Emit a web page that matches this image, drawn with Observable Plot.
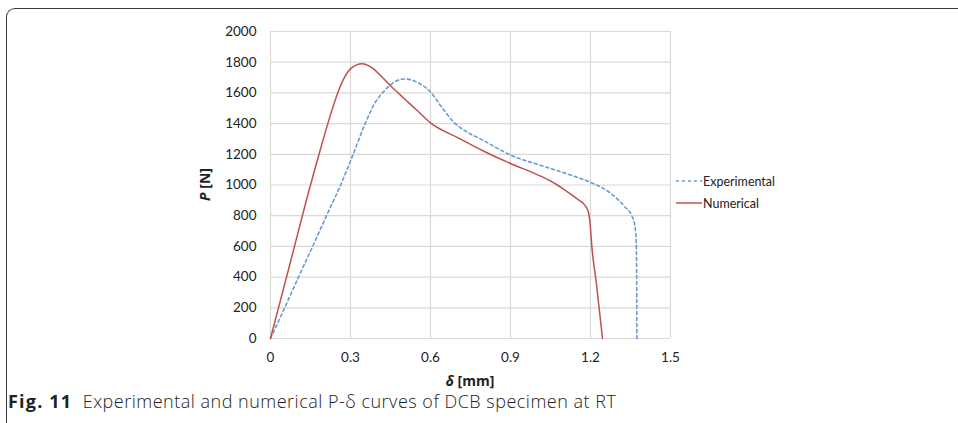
<!DOCTYPE html>
<html>
<head>
<meta charset="utf-8">
<script src="https://cdn.jsdelivr.net/npm/d3@7"></script>
<script src="https://cdn.jsdelivr.net/npm/@observablehq/plot@0.6"></script>
<style>
  html, body { margin: 0; padding: 0; background: #fff; width: 958px; height: 423px; overflow: hidden; }
  #wrap { position: relative; width: 958px; height: 423px; }
  #frame { position: absolute; left: 6px; top: 8px; width: 1000px; height: 600px;
           border-left: 1.3px solid #3a3a3a; border-top: 1.3px solid #3a3a3a; border-top-left-radius: 9px; pointer-events: none; }
  #chart { position: absolute; left: 0; top: 0; }
  #legend { position: absolute; left: 676px; top: 170px; font-family: Lato, "Open Sans", sans-serif; font-size: 12.5px; color: #222; }
  #legend .row { display: flex; align-items: center; height: 22px; }
  #legend svg { margin-right: 1px; }
  #caption { position: absolute; left: 8px; top: 389px; font-family: "Open Sans", sans-serif; font-size: 18px; color: #222; white-space: pre; letter-spacing: 0.5px; }
  #caption b { font-size: 18px; letter-spacing: 1.2px; }
  #caption span { font-weight: 300; }
</style>
</head>
<body>
<div id="wrap">
  <div id="chart"></div>
  <div id="legend"></div>
  <div id="caption"></div>
  <div id="frame"></div>
</div>
<script>
// ---- data ----
const seriesNames = ["Experimental", "Numerical"];
const expDelta = [0, 0.053, 0.105, 0.158, 0.210, 0.263, 0.310, 0.355, 0.390, 0.425, 0.463, 0.503, 0.560, 0.600, 0.645, 0.688, 0.739, 0.800, 0.860, 0.900, 1.000, 1.100, 1.200, 1.260, 1.300, 1.330, 1.355, 1.366, 1.371, 1.373, 1.374];
const expLoad  = [0, 200, 400, 600, 800, 1000, 1200, 1400, 1530, 1610, 1669, 1691, 1660, 1606, 1500, 1408, 1343, 1289, 1230, 1195, 1135, 1080, 1017, 965, 910, 855, 800, 740, 650, 450, 0];
const numDelta = [0, 0.075, 0.150, 0.182, 0.215, 0.252, 0.277, 0.302, 0.343, 0.380, 0.420, 0.460, 0.500, 0.550, 0.600, 0.700, 0.800, 0.900, 1.000, 1.050, 1.100, 1.150, 1.177, 1.190, 1.198, 1.205, 1.222, 1.245];
const numLoad  = [0, 500, 1000, 1200, 1400, 1600, 1700, 1760, 1790, 1765, 1700, 1630, 1565, 1485, 1405, 1310, 1220, 1140, 1068, 1026, 972, 910, 872, 835, 760, 600, 360, 0];
const xTicks = [0, 0.3, 0.6, 0.9, 1.2, 1.5];
const xTickLabels = ["0", "0.3", "0.6", "0.9", "1.2", "1.5"];
const yTicks = [0, 200, 400, 600, 800, 1000, 1200, 1400, 1600, 1800, 2000];
const yTickLabels = ["0", "200", "400", "600", "800", "1000", "1200", "1400", "1600", "1800", "2000"];
const colors = ["#6a9ad2", "#c0504d"];
const xTitle = ["δ", " [mm]"];
const yTitle = ["P", " [N]"];
const captionBold = "Fig. 11";
const captionText = "  Experimental and numerical P-δ curves of DCB specimen at RT";

const exp = expDelta.map((d, i) => ({d, p: expLoad[i]}));
const num = numDelta.map((d, i) => ({d, p: numLoad[i]}));

const W = 958, H = 390;
const plot = Plot.plot({
  width: W, height: H,
  marginLeft: 270, marginRight: 288, marginTop: 31, marginBottom: 52,
  style: {fontFamily: "Lato, 'Open Sans', sans-serif", fontSize: "13.5px", color: "#222", background: "transparent"},
  x: {domain: [0, 1.5], label: null},
  y: {domain: [0, 2000], label: null},
  marks: [
    Plot.ruleX(xTicks, {stroke: "#d9d9d9", strokeWidth: 1.2}),
    Plot.ruleY(yTicks, {stroke: "#d9d9d9", strokeWidth: 1.2}),
    Plot.axisX({ticks: xTicks, tickSize: 0, tickPadding: 14, tickFormat: (d) => xTickLabels[xTicks.indexOf(d)], fontSize: 13.5, label: null}),
    Plot.axisY({ticks: yTicks, tickSize: 0, tickPadding: 14, tickFormat: (d) => yTickLabels[yTicks.indexOf(d)], fontSize: 13.5, label: null}),
    Plot.line(exp, {x: "d", y: "p", stroke: colors[0], strokeWidth: 1.6, strokeDasharray: "3,3", curve: "monotone-x"}),
    Plot.line(num, {x: "d", y: "p", stroke: colors[1], strokeWidth: 1.5, curve: "monotone-x"})
  ]
});
document.getElementById("chart").appendChild(plot);

// axis titles (bold, italic symbol)
const xs = plot.scale("x"), ys = plot.scale("y");
const svg = d3.select(plot);
const xMid = (xs.range[0] + xs.range[1]) / 2;
const yMid = (ys.range[0] + ys.range[1]) / 2;
const tx = svg.append("text").attr("x", xMid).attr("y", ys.range[0] + 48).attr("text-anchor", "middle")
  .attr("font-weight", "bold").attr("font-size", 14).attr("font-family", "'Open Sans', sans-serif").attr("fill", "#222");
tx.append("tspan").attr("font-style", "italic").text(xTitle[0]);
tx.append("tspan").text(xTitle[1]);
const ty = svg.append("text").attr("transform", `translate(${xs.range[0] - 60},${yMid}) rotate(-90)`).attr("text-anchor", "middle")
  .attr("font-weight", "bold").attr("font-size", 14).attr("font-family", "'Open Sans', sans-serif").attr("fill", "#222");
ty.append("tspan").attr("font-style", "italic").text(yTitle[0]);
ty.append("tspan").text(yTitle[1]);

// legend
const legend = d3.select("#legend");
seriesNames.forEach((name, i) => {
  const row = legend.append("div").attr("class", "row");
  const s = row.append("svg").attr("width", 26).attr("height", 6);
  s.append("line").attr("x1", 0).attr("x2", 26).attr("y1", 3).attr("y2", 3)
    .attr("stroke", colors[i]).attr("stroke-width", 1.5).attr("stroke-dasharray", i === 0 ? "3,3" : null);
  row.append("span").text(name);
});

// caption
const cap = d3.select("#caption");
cap.append("b").text(captionBold);
cap.append("span").text(captionText);
</script>
</body>
</html>
